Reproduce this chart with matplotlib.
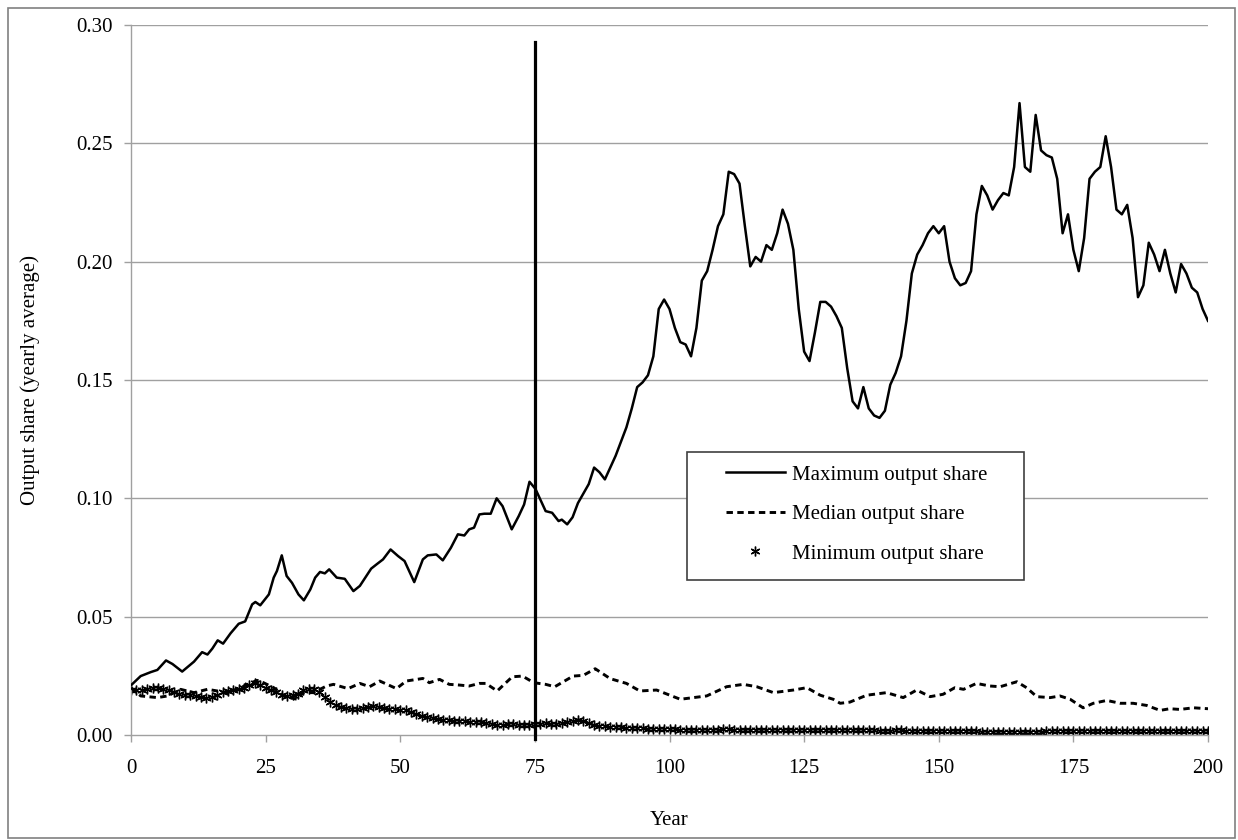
import matplotlib
matplotlib.use("Agg")
import matplotlib.pyplot as plt
from matplotlib.patches import Rectangle
from matplotlib.lines import Line2D

plt.rcParams['font.family'] = ['Liberation Serif', 'DejaVu Serif']

# ---------------- data ----------------
max_years = [0, 1.8, 3.7, 4.9, 6.5, 7.7, 9.5, 11.7, 13.2, 14.2, 15.1, 16.1, 17.1, 18.5, 20.0, 21.2,
             22.5, 23.1, 24.0, 25.6, 26.5, 27.1, 28.0, 28.9, 29.9, 31.1, 32.1, 33.3, 34.2, 35.1,
             36.0, 36.8, 38.2, 39.7, 41.3, 42.5, 44.6, 45.6, 46.8, 48.2, 49.6, 50.8, 52.6, 54.2,
             55.1, 56.7, 57.9, 59.4, 60.7, 61.9, 62.8, 63.7, 64.7, 65.6, 66.8, 67.9, 69.0, 70.7,
             72.0, 73.0, 74.0, 75.1, 77.0, 78.2, 79.4,
             80, 81, 82, 83, 84, 85, 86, 87, 88, 89, 90, 91, 92, 93, 94, 95, 96, 97, 98, 99,
             100, 101, 102, 103, 104, 105, 106, 107, 108, 109, 110, 111, 112, 113, 114, 115, 116,
             117, 118, 119, 120, 121, 122, 123, 124, 125, 126, 127, 128, 129, 130, 131, 132, 133,
             134, 135, 136, 137, 138, 139, 140, 141, 142, 143, 144, 145, 146, 147, 148, 149, 150,
             151, 152, 153, 154, 155, 156, 157, 158, 159, 160, 161, 162, 163, 164, 165, 166, 167,
             168, 169, 170, 171, 172, 173, 174, 175, 176, 177, 178, 179, 180, 181, 182, 183, 184,
             185, 186, 187, 188, 189, 190, 191, 192, 193, 194, 195, 196, 197, 198, 199, 200]
max_vals = [0.021, 0.0249, 0.0266, 0.0275, 0.0315, 0.030, 0.0268, 0.031, 0.035, 0.034, 0.0365,
            0.040, 0.0386, 0.043, 0.047, 0.048, 0.0552, 0.0562, 0.0548, 0.0594, 0.0665, 0.0693,
            0.0759, 0.0672, 0.0643, 0.0594, 0.0569, 0.0615, 0.0665, 0.0689, 0.0683, 0.070, 0.0665,
            0.066, 0.0608, 0.063, 0.0703, 0.0721, 0.0742, 0.0784, 0.0756, 0.0735, 0.0646, 0.0742,
            0.0759, 0.0763, 0.0738, 0.0791, 0.0848, 0.0843, 0.0869, 0.0876, 0.0932, 0.0935, 0.0935,
            0.100, 0.0967, 0.0869, 0.0925, 0.0974, 0.107, 0.104, 0.0946, 0.0939, 0.0904,
            0.091, 0.089, 0.092, 0.098, 0.102, 0.106, 0.113, 0.111, 0.108, 0.113, 0.118, 0.124,
            0.130, 0.138, 0.147, 0.149, 0.152, 0.160, 0.180, 0.184, 0.180, 0.172, 0.166, 0.165,
            0.160, 0.172, 0.192, 0.196, 0.205, 0.215, 0.220, 0.238, 0.237, 0.233, 0.215, 0.198,
            0.202, 0.200, 0.207, 0.205, 0.212, 0.222, 0.216, 0.205, 0.180, 0.162, 0.158, 0.170,
            0.183, 0.183, 0.181, 0.177, 0.172, 0.155, 0.141, 0.138, 0.147, 0.138, 0.135, 0.134,
            0.137, 0.148, 0.153, 0.160, 0.175, 0.195, 0.203, 0.207, 0.212, 0.215, 0.212, 0.215,
            0.200, 0.193, 0.190, 0.191, 0.196, 0.220, 0.232, 0.228, 0.222, 0.226, 0.229, 0.228,
            0.240, 0.267, 0.240, 0.238, 0.262, 0.247, 0.245, 0.244, 0.235, 0.212, 0.220, 0.205,
            0.196, 0.210, 0.235, 0.238, 0.240, 0.253, 0.240, 0.222, 0.220, 0.224, 0.210, 0.185,
            0.190, 0.208, 0.203, 0.196, 0.205, 0.195, 0.187, 0.199, 0.195, 0.189, 0.187, 0.180,
            0.175]

med_years = [0, 1.8, 4.9, 6.8, 9.2, 11.7, 14.2, 17.9, 20.3, 23.4, 24.6, 26.5, 28.3, 30.8, 32.0,
             33.9, 36.3, 37.6, 40.3, 42.5, 44.3, 46.2, 49.3, 51.1, 54.2, 55.4, 57.3, 59.1, 61.0,
             62.8, 64.7, 65.9, 68.0, 70.8, 72.7, 74.8, 77.0, 78.7, 82.1, 84.0, 86.2, 89.0, 92.0,
             94.5, 97.6, 102.0, 106.9, 110.6, 113.7, 116.2, 119.3, 123.0, 125.5, 128.0, 130.4,
             131.7, 133.5, 136.6, 140.3, 143.4, 145.9, 148.4, 150.8, 153.0, 154.6, 157.0, 159.5,
             161.4, 164.5, 166.3, 168.2, 170.7, 172.5, 174.4, 176.8, 178.7, 181.2, 183.7, 186.1,
             188.6, 191.1, 192.9, 194.8, 197.3, 200]
med_vals = [0.020, 0.0165, 0.0158, 0.0165, 0.0193, 0.0179, 0.0193, 0.0179, 0.020, 0.0231, 0.0221,
            0.020, 0.0165, 0.0151, 0.0179, 0.0179, 0.0207, 0.0214, 0.0196, 0.0218, 0.0204, 0.0228,
            0.0196, 0.0228, 0.0239, 0.0221, 0.0235, 0.0214, 0.0211, 0.0207, 0.0218, 0.0218, 0.0186,
            0.0246, 0.0249, 0.0221, 0.0214, 0.0204, 0.0249, 0.0252, 0.028, 0.0238, 0.0218, 0.0186,
            0.019, 0.0151, 0.0165, 0.0204, 0.0214, 0.0204, 0.0179, 0.019, 0.020, 0.0168, 0.0151,
            0.0134, 0.0139, 0.0168, 0.0179, 0.0158, 0.019, 0.0162, 0.0172, 0.020, 0.0193, 0.0218,
            0.0207, 0.0204, 0.0225, 0.020, 0.0162, 0.0158, 0.0165, 0.0151, 0.0115, 0.0134, 0.0146,
            0.0134, 0.0134, 0.0125, 0.0104, 0.0111, 0.0108, 0.0115, 0.0111]

min_years = list(range(0, 201))
min_vals = [0.019, 0.019, 0.019, 0.0195, 0.020, 0.020, 0.0195, 0.019, 0.018, 0.0175,
            0.017, 0.017, 0.0165, 0.016, 0.0158, 0.016, 0.017, 0.018, 0.0185, 0.019,
            0.0195, 0.020, 0.021, 0.022, 0.021, 0.020, 0.019, 0.018, 0.017, 0.0165,
            0.017, 0.0175, 0.019, 0.0195, 0.0195, 0.018, 0.016, 0.014, 0.0128, 0.012,
            0.0115, 0.011, 0.011, 0.0115, 0.012, 0.0122, 0.012, 0.0115, 0.011, 0.0108,
            0.0105, 0.0104, 0.0097, 0.009, 0.0082, 0.0075, 0.007, 0.0066, 0.0063, 0.0062,
            0.006, 0.0059, 0.0058, 0.0056, 0.0055, 0.0053, 0.005, 0.0045, 0.0042, 0.0043,
            0.0045, 0.0045, 0.0044, 0.0043, 0.0042, 0.0045, 0.0048, 0.0050, 0.0048, 0.0047,
            0.005, 0.0055, 0.006, 0.0063, 0.0058, 0.005, 0.0043, 0.0038, 0.0036, 0.0034,
            0.0033, 0.0032, 0.0031, 0.003, 0.003, 0.0029, 0.0027, 0.0026, 0.0025, 0.0024,
            0.0024, 0.0024, 0.0023, 0.0022, 0.0022, 0.0022, 0.0021, 0.0021, 0.0022, 0.0023,
            0.0024, 0.0024, 0.0023, 0.0022, 0.0021, 0.0021, 0.0020, 0.0020, 0.0021, 0.0021,
            0.0021, 0.0020, 0.0020, 0.0020, 0.0021, 0.0021, 0.0022, 0.0022, 0.0021, 0.0021,
            0.0020, 0.0020, 0.0021, 0.0022, 0.0022, 0.0021, 0.0020, 0.0020, 0.0020, 0.0019,
            0.0019, 0.0019, 0.0020, 0.0020, 0.0019, 0.0018, 0.0018, 0.0018, 0.0018, 0.0018,
            0.0018, 0.0018, 0.0017, 0.0017, 0.0017, 0.0016, 0.0016, 0.0015, 0.0014, 0.0014,
            0.0013, 0.0013, 0.0013, 0.0012, 0.0012, 0.0012, 0.0013, 0.0013, 0.0014, 0.0014,
            0.0015, 0.0015, 0.0015, 0.0015, 0.0016, 0.0016, 0.0016, 0.0016, 0.0016, 0.0016,
            0.0016, 0.0016, 0.0016, 0.0015, 0.0015, 0.0015, 0.0015, 0.0015, 0.0015, 0.0015,
            0.0015, 0.0015, 0.0015, 0.0015, 0.0015, 0.0015, 0.0015, 0.0015, 0.0015, 0.0015,
            0.0015]

x_ticks = [0, 25, 50, 75, 100, 125, 150, 175, 200]
y_ticks = [0.00, 0.05, 0.10, 0.15, 0.20, 0.25, 0.30]
y_tick_labels = ["0.00", "0.05", "0.10", "0.15", "0.20", "0.25", "0.30"]
marker_year = 75
marker_top = 0.293
legend_labels = ["Maximum output share", "Median output share", "Minimum output share"]

# ---------------- figure ----------------
W, H = 1238, 840
fig = plt.figure(figsize=(W / 100, H / 100), dpi=100)
ax = fig.add_axes([131 / W, 1 - 735 / H, (1208 - 131) / W, (735 - 25) / H])

# outer border of the chart area
fig.patches.append(Rectangle((8 / W, 2 / H), (1235 - 8) / W, (832 - 2) / H,
                             transform=fig.transFigure, fill=False,
                             edgecolor='#808080', linewidth=1.2))

grid_col = '#a0a0a0'
for yv in y_ticks[1:]:
    ax.axhline(yv, color=grid_col, linewidth=1.0, zorder=0)

ax.plot(min_years, min_vals, linestyle='none', marker=(6, 2, 0), markersize=7,
        markeredgewidth=1.0, color='black', zorder=2)
ax.plot(med_years, med_vals, color='black', linewidth=2.1, linestyle=(0, (2.2, 1.5)), zorder=3)
ax.plot(max_years, max_vals, color='black', linewidth=1.8, solid_joinstyle='round',
        zorder=4)
ax.plot([marker_year, marker_year], [-0.0015, marker_top], color='black', linewidth=2.3,
        clip_on=False, zorder=5)

ax.set_xlim(0, 200)
ax.set_ylim(0, 0.30)
ax.set_xticks(x_ticks)
ax.set_xticklabels([str(t) for t in x_ticks])
ax.set_yticks(y_ticks)
ax.set_yticklabels(y_tick_labels)

for s in ['top', 'right']:
    ax.spines[s].set_visible(False)
for s in ['left', 'bottom']:
    ax.spines[s].set_color(grid_col)
    ax.spines[s].set_linewidth(1.0)

ax.tick_params(axis='both', which='major', direction='out', length=5, width=1.0,
               color=grid_col, labelsize=15, labelcolor='black')
ax.tick_params(axis='y', pad=8)
ax.tick_params(axis='x', pad=12)

ax.set_xlabel('Year', fontsize=15, labelpad=24)
ax.set_ylabel('Output share (yearly average)', fontsize=15, labelpad=26)

# legend
handles = [Line2D([], [], color='black', linewidth=1.8),
           Line2D([], [], color='black', linewidth=2.1, linestyle=(0, (2.2, 1.5))),
           Line2D([], [], color='black', linestyle='none', marker=(6, 2, 0), markersize=7,
                  markeredgewidth=1.0)]
ax.add_patch(Rectangle(((687 - 131) / 1077, (735 - 580) / 710), (1024 - 687) / 1077,
                       (580 - 452) / 710, transform=ax.transAxes, fill=True,
                       facecolor='white', edgecolor='#404040', linewidth=1.2, zorder=6))
leg = ax.legend(handles, legend_labels, loc='upper left',
                bbox_to_anchor=((722 - 131) / 1077, (735 - 461) / 710),
                frameon=False, fontsize=15, handlelength=2.8, handletextpad=0.35,
                labelspacing=0.95, borderpad=0.2, borderaxespad=0)
leg.set_zorder(7)

fig.savefig('out.png', dpi=100, facecolor='white')
